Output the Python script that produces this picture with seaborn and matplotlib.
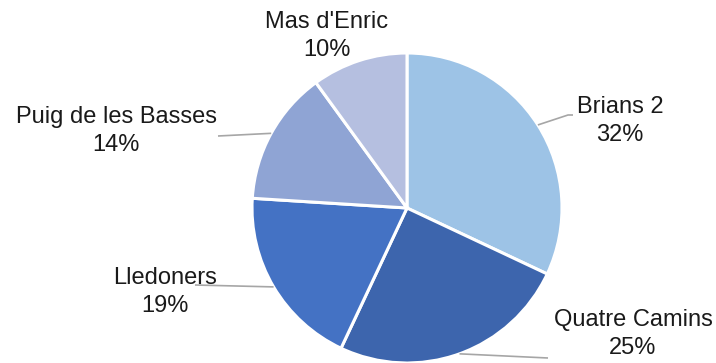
import matplotlib
matplotlib.use("Agg")
import matplotlib.pyplot as plt
import numpy as np
import seaborn as sns

# Share of inmates by prison
prisons = ["Brians 2", "Quatre Camins", "Lledoners", "Puig de les Basses", "Mas d'Enric"]
shares = [32, 25, 19, 14, 10]
pct_labels = ["32%", "25%", "19%", "14%", "10%"]

sns.set_theme(style="white")
plt.rcParams["font.family"] = ["Liberation Sans", "DejaVu Sans"]

palette = sns.color_palette(["#9DC3E6", "#3D65AD", "#4472C4", "#8FA4D4", "#B5BFE0"])

W, H = 716, 363
R = 155.0                 # pie radius in pixels
cx, cy = 407.0, 208.0     # pie centre in pixels

fig = plt.figure(figsize=(W / 100, H / 100), dpi=100)
ax = fig.add_axes([0, 0, 1, 1])

wedges, _ = ax.pie(
    shares, colors=palette, startangle=90, counterclock=False, radius=1.0,
    wedgeprops=dict(edgecolor="white", linewidth=2.2),
)

# pie() resets the limits, so fix the pixel mapping afterwards
ax.set_xlim(-cx / R, (W - cx) / R)
ax.set_ylim(-(H - cy) / R, cy / R)
ax.set_aspect("equal")
ax.axis("off")

def px(x, y):
    return (x - cx) / R, (cy - y) / R

# label centres (pixels) and leader-line end points (pixels, None = no line)
label_pos = [(620, 121), (633, 334), (165, 292), (116, 131), (327, 36)]
leader_end = [[(568, 115), (573, 115)], [(548, 358)], [(195, 285)], [(218, 136)], None]

for w, name, pct, (lx, ly), lead in zip(wedges, prisons, pct_labels, label_pos, leader_end):
    mid = np.deg2rad((w.theta1 + w.theta2) / 2)
    if lead is not None:
        xs = [np.cos(mid)] + [px(*p)[0] for p in lead]
        ys = [np.sin(mid)] + [px(*p)[1] for p in lead]
        ax.plot(xs, ys, color="#A6A6A6", lw=1.2, solid_capstyle="butt", zorder=1)
    tx, ty = px(lx, ly)
    ax.text(tx, ty, f"{name}\n{pct}", ha="center", va="center", fontsize=17,
            color="#1a1a1a", linespacing=1.35)

fig.savefig("out.png", dpi=100, facecolor="white")
